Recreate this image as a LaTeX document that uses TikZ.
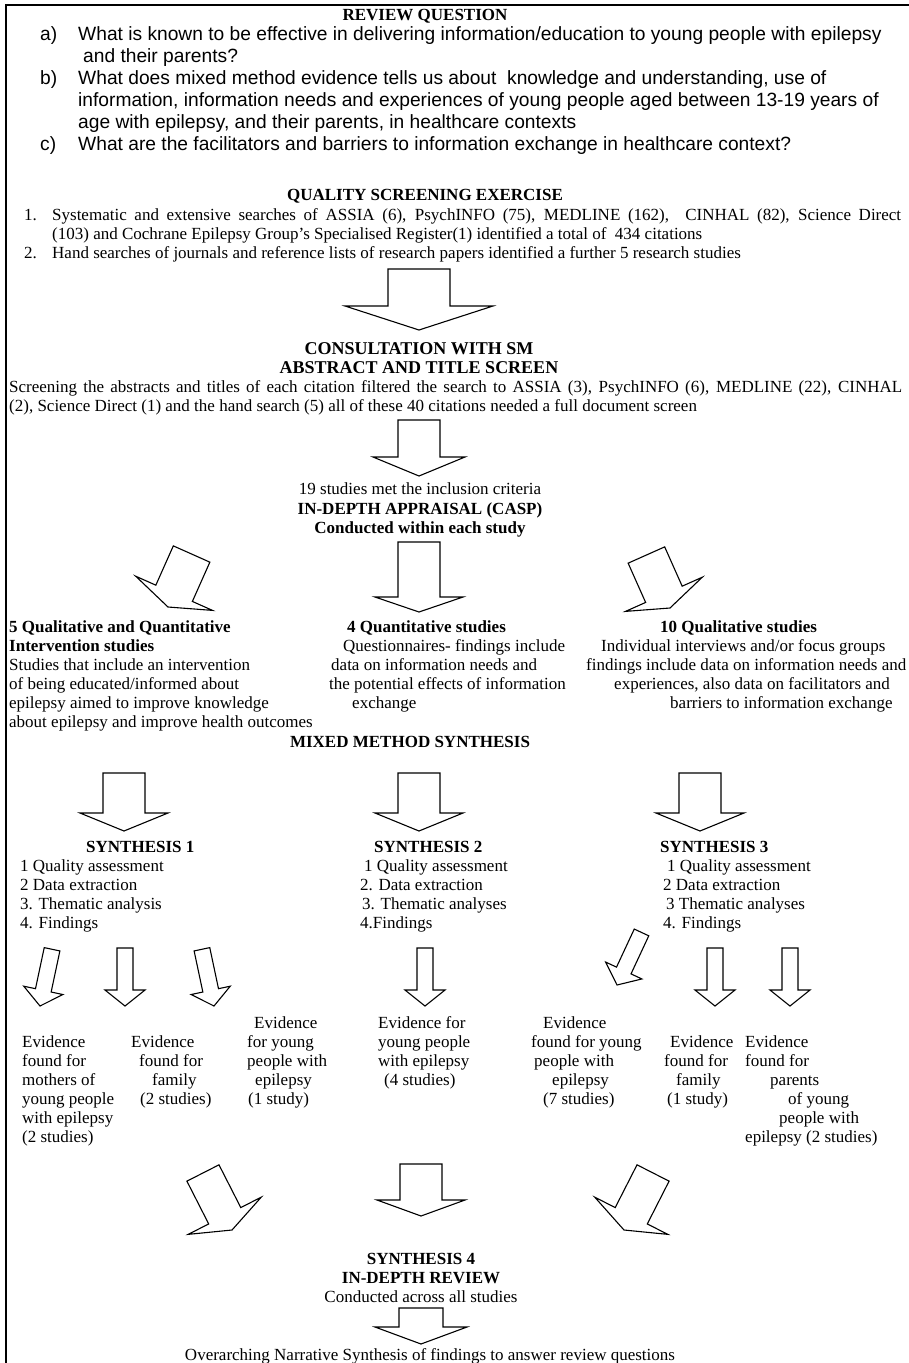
\documentclass[tikz,border=0pt]{standalone}
\usepackage{fontspec}
\setmainfont{Liberation Serif}
\newfontfamily\arialfont{Liberation Sans}
\newcommand\tnr{\fontsize{17}{19}\selectfont}
\newcommand\tbig{\fontsize{18}{19}\selectfont}
\newcommand\arl{\arialfont\fontsize{19.2}{20}\selectfont}
% block arrow: tip x, tip y, angle, shaft half width, head half width, head length, total length
\newcommand\blockarrow[7]{%
  \begin{scope}[shift={(#1,#2)},rotate=#3]
  \draw[barrow] (0,0) -- (#5,-#6) -- (#4,-#6) -- (#4,-#7) -- (-#4,-#7) -- (-#4,-#6) -- (-#5,-#6) -- cycle;
  \end{scope}}
\begin{document}
\begin{tikzpicture}[x=1pt,y=-1pt,
  barrow/.style={draw=black,line width=1.1pt,line join=miter,fill=white},
  tl/.style={inner sep=0pt,anchor=base west,font=\tnr},
  tc/.style={inner sep=0pt,anchor=base,font=\tnr},
  bl/.style={inner sep=0pt,anchor=base west,font=\tnr\bfseries},
  bc/.style={inner sep=0pt,anchor=base,font=\tnr\bfseries},
  bcb/.style={inner sep=0pt,anchor=base,font=\tbig\bfseries},
  al/.style={inner sep=0pt,anchor=base west,font=\arl}]
\useasboundingbox (0,0) rectangle (909,1363);
\fill[white] (0,0) rectangle (909,1363);
% frame (left and top sides visible)
\draw[line width=1.6pt] (6,1363) -- (6,5) -- (909,5);

% ---------- review question ----------
\node[bc] (rq) at (425,20) {REVIEW QUESTION};
\node[al] (qa) at (40,40) {a)};
\node[al] (qa1) at (78,40) {What is known to be effective in delivering information/education to young people with epilepsy};
\node[al] (qa2) at (83,62) {and their parents?};
\node[al] (qb) at (40,84) {b)};
\node[al] (qb1) at (78,84) {What does mixed method evidence tells us about \ knowledge and understanding, use of};
\node[al] (qb2) at (78,106) {information, information needs and experiences of young people aged between 13-19 years of};
\node[al] (qb3) at (78,128) {age with epilepsy, and their parents, in healthcare contexts};
\node[al] (qc) at (40,150) {c)};
\node[al] (qc1) at (78,150) {What are the facilitators and barriers to information exchange in healthcare context?};

% ---------- quality screening ----------
\node[bc] (qs) at (425,200) {QUALITY SCREENING EXERCISE};
\node[tl] (s1) at (24,220) {1.};
\node[tl] (s1a) at (52,220) {\makebox[849pt][s]{Systematic and extensive searches of ASSIA (6), PsychINFO (75), MEDLINE (162), \ CINHAL (82), Science Direct}};
\node[tl] (s1b) at (52,239) {(103) and Cochrane Epilepsy Group's Specialised Register(1) identified a total of \ 434 citations};
\node[tl] (s2) at (24,258) {2.};
\node[tl] (s2a) at (52,258) {Hand searches of journals and reference lists of research papers identified a further 5 research studies};

\blockarrow{419}{330}{0}{31}{74}{24}{61}

% ---------- consultation ----------
\node[bcb] (cs) at (419,354) {CONSULTATION WITH SM};
\node[bcb] (at) at (419,373) {ABSTRACT AND TITLE SCREEN};
\node[tl] (sc1) at (9,392) {\makebox[893pt][s]{Screening the abstracts and titles of each citation filtered the search to ASSIA (3), PsychINFO (6), MEDLINE (22), CINHAL}};
\node[tl] (sc2) at (9,411) {(2), Science Direct (1) and the hand search (5) all of these 40 citations needed a full document screen};

\blockarrow{419}{476}{0}{21}{46}{19}{56}

\node[tc] (ms) at (420,494) {19 studies met the inclusion criteria};
\node[bc] (ia) at (420,514) {IN-DEPTH APPRAISAL (CASP)};
\node[bc] (cw) at (420,533) {Conducted within each study};

\blockarrow{168}{607}{-24}{20}{42}{15}{58}
\blockarrow{419}{612}{0}{21}{44}{15}{70}
\blockarrow{670}{608}{24}{20}{42}{15}{58}

% ---------- three study groups ----------
\node[bl] (g1a) at (9,632) {5 Qualitative and Quantitative};
\node[bl] (g1b) at (9,651) {Intervention studies};
\node[tl] (g1c) at (9,670) {Studies that include an intervention};
\node[tl] (g1d) at (9,689) {of being educated/informed about};
\node[tl] (g1e) at (9,708) {epilepsy aimed to improve knowledge};
\node[tl] (g1f) at (9,727) {about epilepsy and improve health outcomes};

\node[bl] (g2a) at (347,632) {4 Quantitative studies};
\node[tl] (g2b) at (343,651) {Questionnaires- findings include};
\node[tl] (g2c) at (331,670) {data on information needs and};
\node[tl] (g2d) at (329,689) {the potential effects of information};
\node[tl] (g2e) at (352,708) {exchange};

\node[bl] (g3a) at (660,632) {10 Qualitative studies};
\node[tl] (g3b) at (601,651) {Individual interviews and/or focus groups};
\node[tl] (g3c) at (586,670) {findings include data on information needs and};
\node[tl] (g3d) at (614,689) {experiences, also data on facilitators and};
\node[tl] (g3e) at (670,708) {barriers to information exchange};

\node[bc] (mm) at (410,747) {MIXED METHOD SYNTHESIS};

\blockarrow{124}{831}{0}{21}{44}{18}{58}
\blockarrow{419}{831}{0}{21}{44}{18}{58}
\blockarrow{700}{831}{0}{21}{44}{18}{58}

% ---------- syntheses ----------
\node[bl] (y1) at (86,852) {SYNTHESIS 1};
\node[tl] (y1a) at (20,871) {1 Quality assessment};
\node[tl] (y1b) at (20,890) {2 Data extraction};
\node[tl] (y1c) at (20,909) {3. Thematic analysis};
\node[tl] (y1d) at (20,928) {4. Findings};

\node[bl] (y2) at (374,852) {SYNTHESIS 2};
\node[tl] (y2a) at (364,871) {1 Quality assessment};
\node[tl] (y2b) at (360,890) {2. Data extraction};
\node[tl] (y2c) at (362,909) {3. Thematic analyses};
\node[tl] (y2d) at (360,928) {4.Findings};

\node[bl] (y3) at (660,852) {SYNTHESIS 3};
\node[tl] (y3a) at (667,871) {1 Quality assessment};
\node[tl] (y3b) at (663,890) {2 Data extraction};
\node[tl] (y3c) at (666,909) {3 Thematic analyses};
\node[tl] (y3d) at (663,928) {4. Findings};

% small arrows
\blockarrow{40}{1006}{-12}{8}{20}{16}{58}
\blockarrow{125}{1006}{0}{8}{20}{16}{58}
\blockarrow{214}{1006}{12}{8}{20}{16}{58}
\blockarrow{425}{1006}{0}{8}{20}{16}{58}
\blockarrow{617}{985}{-25}{8}{20}{16}{58}
\blockarrow{715}{1006}{0}{8}{20}{16}{58}
\blockarrow{790}{1006}{0}{8}{20}{16}{58}

% ---------- evidence ----------
\node[tl] (ea1) at (22,1047) {Evidence};
\node[tl] (ea2) at (22,1066) {found for};
\node[tl] (ea3) at (22,1085) {mothers of};
\node[tl] (ea4) at (22,1104) {young people};
\node[tl] (ea5) at (22,1123) {with epilepsy};
\node[tl] (ea6) at (22,1142) {(2 studies)};

\node[tl] (eb1) at (131,1047) {Evidence};
\node[tl] (eb2) at (139,1066) {found for};
\node[tl] (eb3) at (152,1085) {family};
\node[tl] (eb4) at (140,1104) {(2 studies)};

\node[tl] (ec1) at (254,1028) {Evidence};
\node[tl] (ec2) at (247,1047) {for young};
\node[tl] (ec3) at (247,1066) {people with};
\node[tl] (ec4) at (255,1085) {epilepsy};
\node[tl] (ec5) at (248,1104) {(1 study)};

\node[tl] (ed1) at (378,1028) {Evidence for};
\node[tl] (ed2) at (378,1047) {young people};
\node[tl] (ed3) at (378,1066) {with epilepsy};
\node[tl] (ed4) at (384,1085) {(4 studies)};

\node[tl] (ee1) at (543,1028) {Evidence};
\node[tl] (ee2) at (531,1047) {found for young};
\node[tl] (ee3) at (534,1066) {people with};
\node[tl] (ee4) at (552,1085) {epilepsy};
\node[tl] (ee5) at (543,1104) {(7 studies)};

\node[tl] (ef1) at (670,1047) {Evidence};
\node[tl] (ef2) at (664,1066) {found for};
\node[tl] (ef3) at (676,1085) {family};
\node[tl] (ef4) at (667,1104) {(1 study)};

\node[tl] (eg1) at (745,1047) {Evidence};
\node[tl] (eg2) at (745,1066) {found for};
\node[tl] (eg3) at (770,1085) {parents};
\node[tl] (eg4) at (788,1104) {of young};
\node[tl] (eg5) at (779,1123) {people with};
\node[tl] (eg6) at (745,1142) {epilepsy (2 studies)};

% bottom arrows
\blockarrow{232}{1230}{27}{18}{41}{16}{64}
\blockarrow{421}{1216}{0}{21}{44}{16}{52}
\blockarrow{624}{1230}{-27}{18}{41}{16}{64}

\node[bc] (y4) at (421,1264) {SYNTHESIS 4};
\node[bc] (ir) at (421,1283) {IN-DEPTH REVIEW};
\node[tc] (ca) at (421,1302) {Conducted across all studies};

\blockarrow{421}{1344}{0}{22}{46}{17}{36}

\node[tc] (ov) at (430,1360) {Overarching Narrative Synthesis of findings to answer review questions};
\end{tikzpicture}
\end{document}
